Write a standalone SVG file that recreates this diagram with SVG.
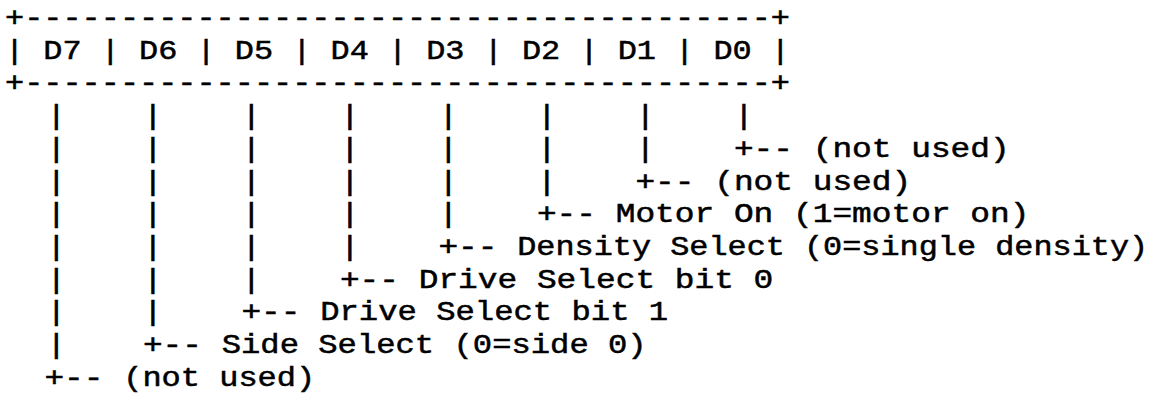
<svg xmlns="http://www.w3.org/2000/svg" width="1166" height="395" viewBox="0 0 1166 395">
<style>
text{font-family:"Liberation Mono","Courier New",monospace;font-size:27px;fill:#000;stroke:#000;stroke-width:0.5px;white-space:pre}
</style>
<rect width="1166" height="395" fill="#fff"/>
<g id="register">
<text x="5" y="26" textLength="785" lengthAdjust="spacingAndGlyphs">+---------------------------------------+</text>
<text x="5" y="58.7" textLength="785" lengthAdjust="spacingAndGlyphs" xml:space="preserve">| D7 | D6 | D5 | D4 | D3 | D2 | D1 | D0 |</text>
<text x="5" y="91.4" textLength="785" lengthAdjust="spacingAndGlyphs">+---------------------------------------+</text>
</g>
<g id="connectors">
<g id="c-d0">
<text x="733.9" y="124.1" textLength="19.7" lengthAdjust="spacingAndGlyphs">|</text>
<text x="733.9" y="156.8" textLength="59.1" lengthAdjust="spacingAndGlyphs">+--</text>
</g>
<g id="c-d1">
<text x="635.4" y="124.1" textLength="19.7" lengthAdjust="spacingAndGlyphs">|</text>
<text x="635.4" y="156.8" textLength="19.7" lengthAdjust="spacingAndGlyphs">|</text>
<text x="635.4" y="189.5" textLength="59.1" lengthAdjust="spacingAndGlyphs">+--</text>
</g>
<g id="c-d2">
<text x="536.9" y="124.1" textLength="19.7" lengthAdjust="spacingAndGlyphs">|</text>
<text x="536.9" y="156.8" textLength="19.7" lengthAdjust="spacingAndGlyphs">|</text>
<text x="536.9" y="189.5" textLength="19.7" lengthAdjust="spacingAndGlyphs">|</text>
<text x="536.9" y="222.2" textLength="59.1" lengthAdjust="spacingAndGlyphs">+--</text>
</g>
<g id="c-d3">
<text x="438.4" y="124.1" textLength="19.7" lengthAdjust="spacingAndGlyphs">|</text>
<text x="438.4" y="156.8" textLength="19.7" lengthAdjust="spacingAndGlyphs">|</text>
<text x="438.4" y="189.5" textLength="19.7" lengthAdjust="spacingAndGlyphs">|</text>
<text x="438.4" y="222.2" textLength="19.7" lengthAdjust="spacingAndGlyphs">|</text>
<text x="438.4" y="254.9" textLength="59.1" lengthAdjust="spacingAndGlyphs">+--</text>
</g>
<g id="c-d4">
<text x="339.9" y="124.1" textLength="19.7" lengthAdjust="spacingAndGlyphs">|</text>
<text x="339.9" y="156.8" textLength="19.7" lengthAdjust="spacingAndGlyphs">|</text>
<text x="339.9" y="189.5" textLength="19.7" lengthAdjust="spacingAndGlyphs">|</text>
<text x="339.9" y="222.2" textLength="19.7" lengthAdjust="spacingAndGlyphs">|</text>
<text x="339.9" y="254.9" textLength="19.7" lengthAdjust="spacingAndGlyphs">|</text>
<text x="339.9" y="287.6" textLength="59.1" lengthAdjust="spacingAndGlyphs">+--</text>
</g>
<g id="c-d5">
<text x="241.4" y="124.1" textLength="19.7" lengthAdjust="spacingAndGlyphs">|</text>
<text x="241.4" y="156.8" textLength="19.7" lengthAdjust="spacingAndGlyphs">|</text>
<text x="241.4" y="189.5" textLength="19.7" lengthAdjust="spacingAndGlyphs">|</text>
<text x="241.4" y="222.2" textLength="19.7" lengthAdjust="spacingAndGlyphs">|</text>
<text x="241.4" y="254.9" textLength="19.7" lengthAdjust="spacingAndGlyphs">|</text>
<text x="241.4" y="287.6" textLength="19.7" lengthAdjust="spacingAndGlyphs">|</text>
<text x="241.4" y="320.3" textLength="59.1" lengthAdjust="spacingAndGlyphs">+--</text>
</g>
<g id="c-d6">
<text x="142.9" y="124.1" textLength="19.7" lengthAdjust="spacingAndGlyphs">|</text>
<text x="142.9" y="156.8" textLength="19.7" lengthAdjust="spacingAndGlyphs">|</text>
<text x="142.9" y="189.5" textLength="19.7" lengthAdjust="spacingAndGlyphs">|</text>
<text x="142.9" y="222.2" textLength="19.7" lengthAdjust="spacingAndGlyphs">|</text>
<text x="142.9" y="254.9" textLength="19.7" lengthAdjust="spacingAndGlyphs">|</text>
<text x="142.9" y="287.6" textLength="19.7" lengthAdjust="spacingAndGlyphs">|</text>
<text x="142.9" y="320.3" textLength="19.7" lengthAdjust="spacingAndGlyphs">|</text>
<text x="142.9" y="353" textLength="59.1" lengthAdjust="spacingAndGlyphs">+--</text>
</g>
<g id="c-d7">
<text x="46.4" y="124.1" textLength="19.7" lengthAdjust="spacingAndGlyphs">|</text>
<text x="46.4" y="156.8" textLength="19.7" lengthAdjust="spacingAndGlyphs">|</text>
<text x="46.4" y="189.5" textLength="19.7" lengthAdjust="spacingAndGlyphs">|</text>
<text x="46.4" y="222.2" textLength="19.7" lengthAdjust="spacingAndGlyphs">|</text>
<text x="46.4" y="254.9" textLength="19.7" lengthAdjust="spacingAndGlyphs">|</text>
<text x="46.4" y="287.6" textLength="19.7" lengthAdjust="spacingAndGlyphs">|</text>
<text x="46.4" y="320.3" textLength="19.7" lengthAdjust="spacingAndGlyphs">|</text>
<text x="46.4" y="353" textLength="19.7" lengthAdjust="spacingAndGlyphs">|</text>
<text x="44.4" y="385.7" textLength="59.1" lengthAdjust="spacingAndGlyphs">+--</text>
</g>
</g>
<g id="label-d0"><text x="812.7" y="156.8" textLength="197" lengthAdjust="spacingAndGlyphs" xml:space="preserve">(not used)</text></g>
<g id="label-d1"><text x="714.2" y="189.5" textLength="197" lengthAdjust="spacingAndGlyphs" xml:space="preserve">(not used)</text></g>
<g id="label-d2"><text x="615.7" y="222.2" textLength="413.7" lengthAdjust="spacingAndGlyphs" xml:space="preserve">Motor On (1=motor on)</text></g>
<g id="label-d3"><text x="517.2" y="254.9" textLength="631" lengthAdjust="spacingAndGlyphs" xml:space="preserve">Density Select (0=single density)</text></g>
<g id="label-d4"><text x="418.7" y="287.6" textLength="354.6" lengthAdjust="spacingAndGlyphs" xml:space="preserve">Drive Select bit 0</text></g>
<g id="label-d5"><text x="320.2" y="320.3" textLength="348" lengthAdjust="spacingAndGlyphs" xml:space="preserve">Drive Select bit 1</text></g>
<g id="label-d6"><text x="221.7" y="353" textLength="425" lengthAdjust="spacingAndGlyphs" xml:space="preserve">Side Select (0=side 0)</text></g>
<g id="label-d7"><text x="123.2" y="385.7" textLength="192" lengthAdjust="spacingAndGlyphs" xml:space="preserve">(not used)</text></g>
</svg>
